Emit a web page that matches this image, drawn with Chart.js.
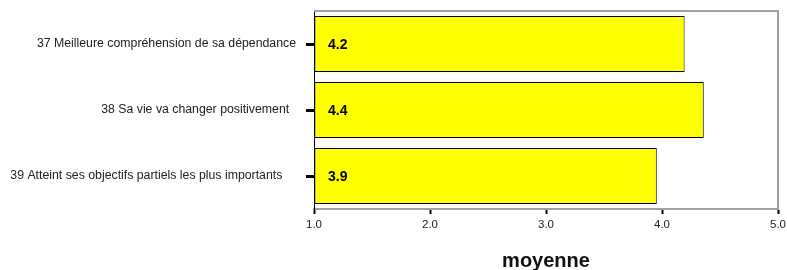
<!DOCTYPE html>
<html>
<head>
<meta charset="utf-8">
<script src="https://cdn.jsdelivr.net/npm/chart.js@4/dist/chart.umd.min.js"></script>
<style>
html,body{margin:0;padding:0;background:#fff;}
canvas{display:block;}
</style>
</head>
<body>
<canvas id="c" width="787" height="270"></canvas>
<script>
const categories = [
  "37 Meilleure compréhension de sa dépendance",
  "38 Sa vie va changer positivement  ",
  "39 Atteint ses objectifs partiels les plus importants    "
];
const values = [4.195, 4.36, 3.955];
const valueLabels = ["4.2", "4.4", "3.9"];
const xTicks = [1, 2, 3, 4, 5];
const axisTitle = "moyenne";

const FONT = "Arial, 'Liberation Sans', sans-serif";

const frame = {
  id: 'frame',
  afterDraw(chart) {
    const {ctx, chartArea: a} = chart;
    ctx.save();
    ctx.strokeStyle = '#a0a0a0';
    ctx.lineWidth = 2;
    ctx.beginPath();
    ctx.moveTo(a.left, a.top);
    ctx.lineTo(a.right, a.top);
    ctx.lineTo(a.right, a.bottom);
    ctx.stroke();
    ctx.restore();
  }
};

const valueText = {
  id: 'valueText',
  afterDatasetsDraw(chart) {
    const {ctx} = chart;
    const meta = chart.getDatasetMeta(0);
    const x0 = chart.scales.x.getPixelForValue(xTicks[0]);
    ctx.save();
    ctx.font = "bold 14px " + FONT;
    ctx.fillStyle = '#000';
    ctx.textAlign = 'left';
    ctx.textBaseline = 'middle';
    meta.data.forEach((bar, i) => {
      ctx.fillText(valueLabels[i], x0 + 14, bar.y + 1);
    });
    ctx.restore();
  }
};

new Chart(document.getElementById('c'), {
  type: 'bar',
  data: {
    labels: categories,
    datasets: [{
      data: values,
      base: xTicks[0],
      backgroundColor: '#ffff00',
      borderColor: '#000',
      borderWidth: 1,
      borderSkipped: false,
      barPercentage: 0.85,
      categoryPercentage: 1.0
    }]
  },
  options: {
    indexAxis: 'y',
    responsive: false,
    animation: false,
    layout: {padding: {top: 11, right: 9, left: 0, bottom: 0}},
    plugins: {legend: {display: false}, tooltip: {enabled: false}},
    scales: {
      x: {
        min: 1, max: 5,
        afterBuildTicks(scale) { scale.ticks = xTicks.map(v => ({value: v})); },
        afterFit(scale) { scale.height = 61; scale.paddingLeft = 0; scale.paddingRight = 0; },
        ticks: {
          callback: v => Number(v).toFixed(1),
          font: {family: FONT, size: 11.5},
          color: '#222',
          padding: 4,
          maxRotation: 0
        },
        grid: {drawOnChartArea: false, tickLength: 5, tickWidth: 2, tickColor: '#000'},
        border: {display: true, color: '#a0a0a0', width: 2},
        title: {
          display: true,
          text: axisTitle,
          font: {family: FONT, size: 20, weight: 'bold', lineHeight: 0.85},
          color: '#111',
          padding: {top: 0, bottom: 0}
        }
      },
      y: {
        afterFit(scale) { scale.width = 314; scale.paddingTop = 0; scale.paddingBottom = 0; },
        ticks: {
          font: {family: FONT, size: 12.3},
          color: '#222',
          padding: 10
        },
        grid: {drawOnChartArea: false, offset: false, tickLength: 8, tickWidth: 3, tickColor: '#000'},
        border: {display: true, color: '#000', width: 1}
      }
    }
  },
  plugins: [frame, valueText]
});
</script>
</body>
</html>
